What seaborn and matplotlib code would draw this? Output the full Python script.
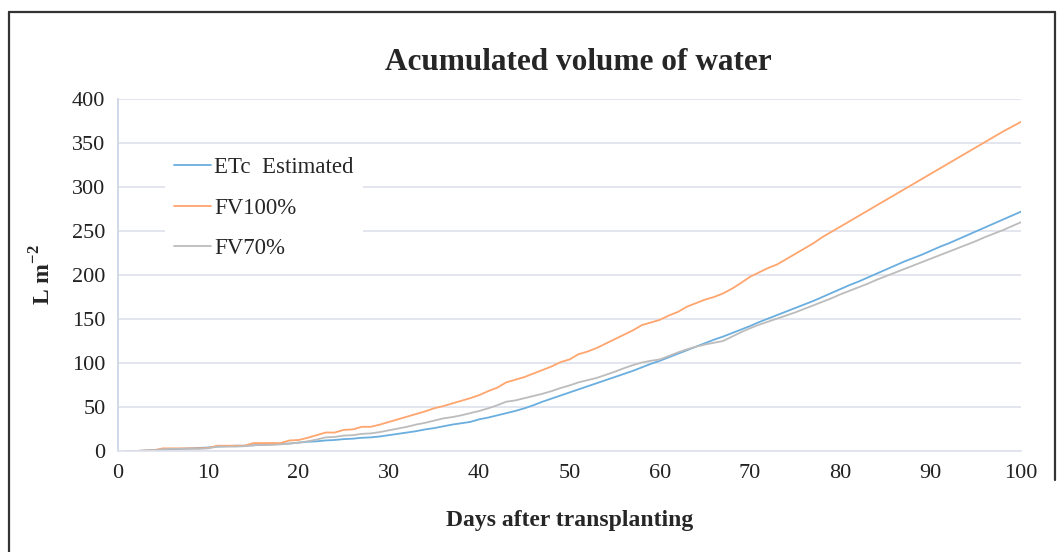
import numpy as np
import pandas as pd
import matplotlib
matplotlib.use("Agg")
import matplotlib.pyplot as plt
import seaborn as sns
from matplotlib.lines import Line2D

days = list(range(1, 101))

etc_estimated = [0, 0, 0.5, 1, 1.5, 2, 2.5, 3, 3.5, 4,
                 5, 5.5, 6, 6, 6.5, 7, 7.5, 8, 8.5, 9.5,
                 10.5, 11, 12, 12.5, 13.5, 14, 15, 15.5, 16.5, 18,
                 19.5, 21, 22.5, 24.5, 26, 28, 30, 31.5, 33, 36,
                 38, 40.5, 43, 45.5, 48.5, 52, 56, 59.5, 63, 66.5,
                 70, 73.5, 77, 80.5, 84, 87.5, 91, 95, 99, 102.5,
                 106.5, 110.5, 114.5, 118.5, 122.5, 126.5, 130, 134, 138, 142,
                 146.5, 150.5, 154.5, 158.5, 162.5, 166.5, 170.5, 175, 179.5, 184,
                 188.5, 192.5, 197, 201.5, 206, 210.5, 215, 219, 223, 227.5,
                 232, 236, 240.5, 245, 249.5, 254, 258.5, 263, 267.5, 272]

fv100 = [0, 0, 0.5, 1, 3, 3, 3, 3, 3, 3.5,
         6, 6, 6, 6, 9, 9, 9, 9, 12, 12.5,
         15, 18, 21, 21, 24, 24.5, 27.5, 27.5, 30, 33,
         36, 39, 42, 45, 48.5, 51, 54, 57, 60, 63.5,
         68, 72, 78, 81, 84, 88, 92, 96, 101, 104,
         110, 113, 117, 122, 127, 132, 137, 143, 146, 149,
         154, 158, 164, 168, 172, 175, 179, 184.5, 191, 198,
         203, 208, 212, 218, 224, 230, 236, 243, 249, 255,
         261, 267, 273, 279, 285, 291, 297, 303, 309, 315,
         321, 327, 333, 339, 345, 351, 357, 363, 368.5, 374]

fv70 = [0, 0, 0.5, 1, 2, 2.5, 2.5, 2.5, 2.5, 3,
        5, 5, 5, 5.5, 6.5, 7, 7, 7.5, 8.5, 9.5,
        11, 13, 15.5, 16, 17.5, 18, 19.5, 20, 21.5, 23.5,
        25.5, 27.5, 30, 32, 34.5, 37, 38.5, 40.5, 43, 45.5,
        48.5, 52, 56, 57.5, 60, 62.5, 65, 68, 71.5, 74.5,
        78, 80.5, 83, 86.5, 90, 94, 97.5, 100.5, 102.5, 104,
        108, 112, 115.5, 118.5, 121, 123, 125, 130, 135, 139.5,
        143.5, 147, 150.5, 154, 157.5, 161.5, 165.5, 169.5, 173.5, 178,
        182, 186, 190, 194.5, 198.5, 202.5, 206.5, 210.5, 214.5, 218.5,
        222.5, 226.5, 230.5, 234.5, 238.5, 243, 247, 251, 255.5, 260]

series_names = ["ETc  Estimated", "FV100%", "FV70%"]
colors = ["#6aaedf", "#ffa56e", "#bcbcbc"]

df = pd.DataFrame({
    "day": days * 3,
    "value": etc_estimated + fv100 + fv70,
    "series": [series_names[0]] * 100 + [series_names[1]] * 100 + [series_names[2]] * 100,
})

sns.set_theme(style="white")
plt.rcParams["font.family"] = ["Liberation Serif", "DejaVu Serif"]
plt.rcParams["mathtext.fontset"] = "custom"
plt.rcParams["mathtext.rm"] = "Liberation Serif"
plt.rcParams["mathtext.bf"] = "Liberation Serif:bold"

fig = plt.figure(figsize=(10.64, 5.52), dpi=100)
ax = fig.add_axes([118 / 1064, 1 - 451 / 552, 903 / 1064, 352 / 552])

sns.lineplot(data=df, x="day", y="value", hue="series",
             palette=dict(zip(series_names, colors)), linewidth=1.3,
             ax=ax, legend=False)

ax.set_xlim(0, 100)
ax.set_ylim(0, 400)
ax.set_xticks(range(0, 101, 10))
ax.set_yticks(range(0, 401, 50))
ax.grid(axis="y", color="#dfe2ec", linewidth=1.2)
ax.set_axisbelow(True)
for s in ["top", "right"]:
    ax.spines[s].set_visible(False)
ax.spines["left"].set_color("#c9d3e6")
ax.spines["bottom"].set_color("#dfe2ec")
ax.spines["left"].set_linewidth(1.2)
ax.spines["bottom"].set_linewidth(1.2)
ax.tick_params(axis="both", length=0, labelsize=16, colors="#222222")
ax.tick_params(axis="x", pad=9)
ax.tick_params(axis="y", pad=9)

ax.set_xlabel("Days after transplanting", fontsize=17, fontweight="bold", labelpad=20)
ax.set_ylabel("L m$^{\\mathbf{-2}}$", fontsize=17, fontweight="bold", labelpad=12)
fig.text(578 / 1064, 1 - 62 / 552, "Acumulated volume of water", ha="center", va="center",
         fontsize=22.5, fontweight="bold")

handles = [Line2D([0], [0], color=c, linewidth=1.3) for c in colors]
leg = ax.legend(handles, series_names, loc="upper left",
                bbox_to_anchor=(165 / 1064, 1 - 148 / 552), bbox_transform=fig.transFigure,
                frameon=True, facecolor="white", edgecolor="none", framealpha=1,
                fontsize=16.5, handlelength=1.6, handletextpad=0.15, labelspacing=0.85,
                borderpad=0.4, borderaxespad=0, fancybox=False)

# figure border (top and sides)
fig.add_artist(Line2D([9 / 1064, 9 / 1064], [0, 1 - 12 / 552], transform=fig.transFigure,
                      color="#333333", linewidth=1.6))
fig.add_artist(Line2D([9 / 1064, 1055 / 1064], [1 - 12 / 552, 1 - 12 / 552], transform=fig.transFigure,
                      color="#333333", linewidth=1.6))
fig.add_artist(Line2D([1055 / 1064, 1055 / 1064], [1 - 480 / 552, 1 - 12 / 552], transform=fig.transFigure,
                      color="#333333", linewidth=1.6))

fig.savefig("out.png", dpi=100)
